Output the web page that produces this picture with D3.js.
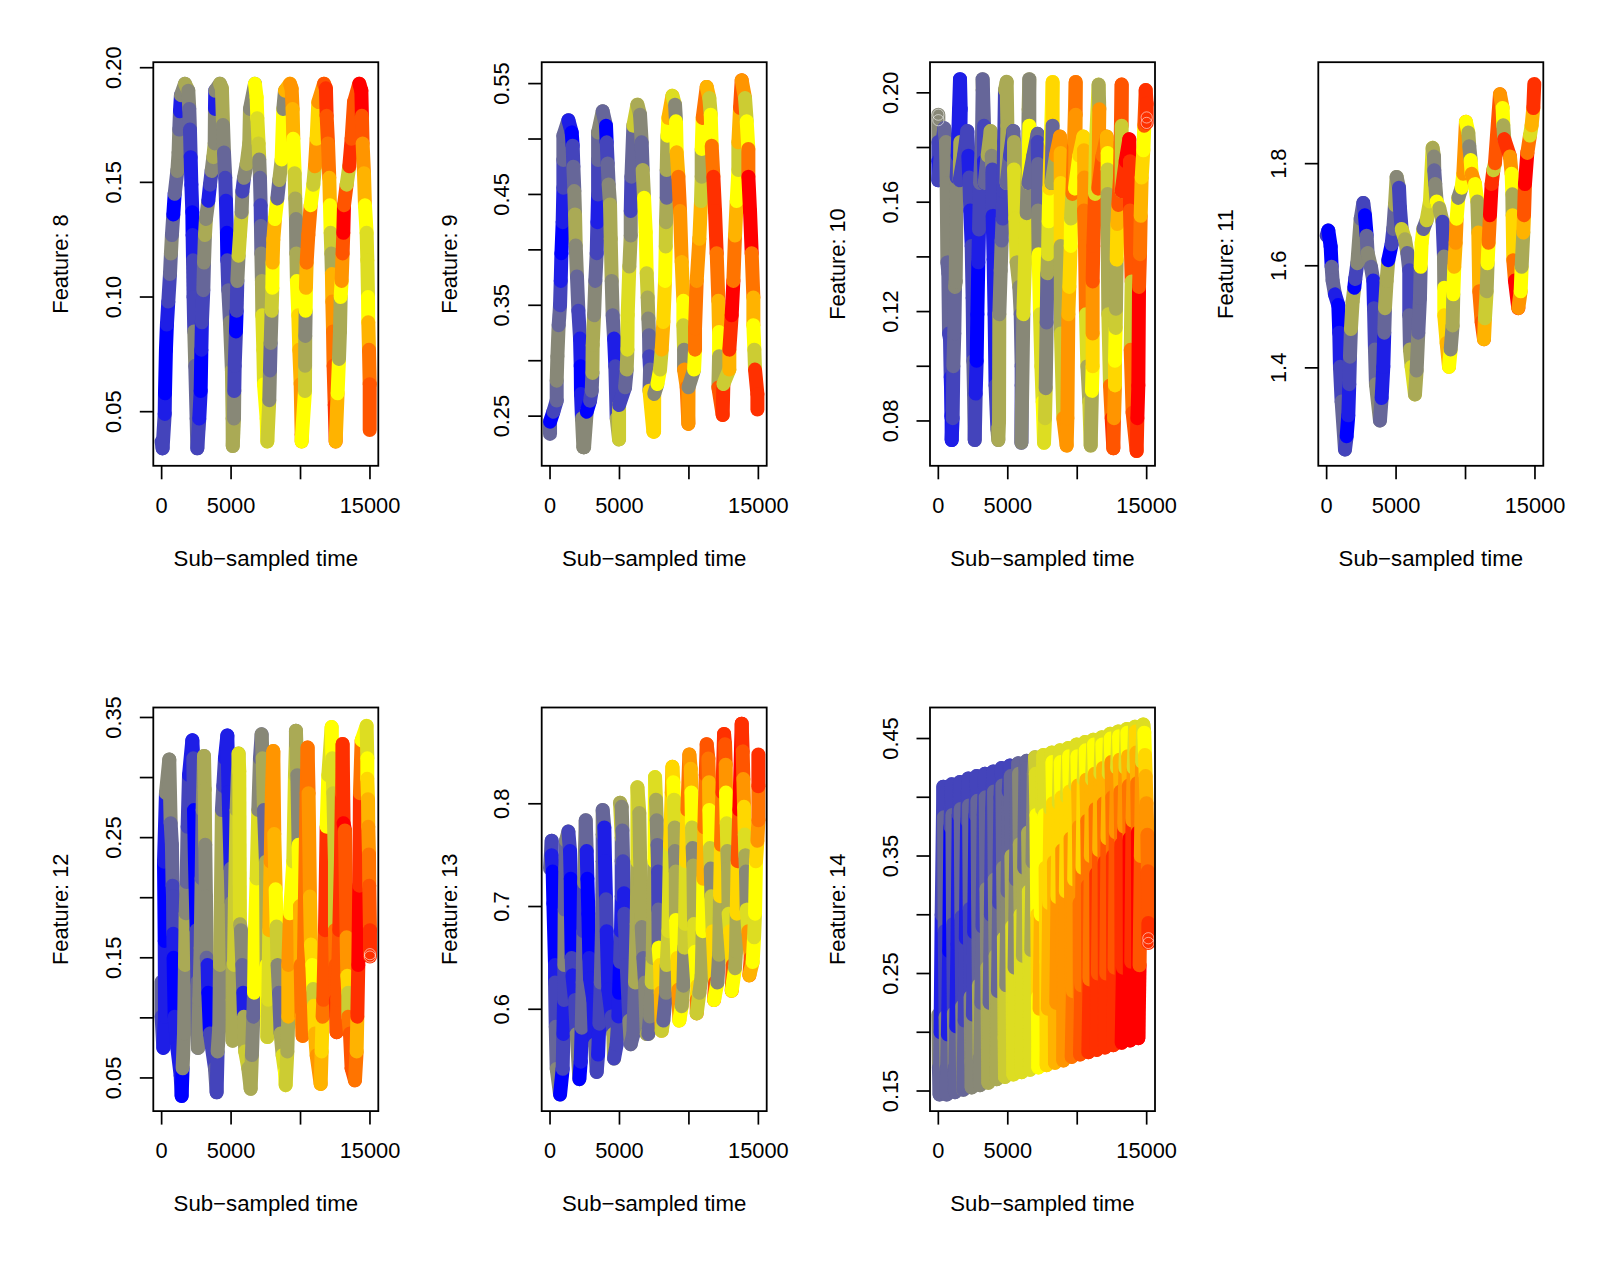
<!DOCTYPE html>
<html><head><meta charset="utf-8">
<script src="https://cdn.jsdelivr.net/npm/d3@7/dist/d3.min.js"></script>
<style>html,body{margin:0;background:#fff}svg{display:block}text{font-family:"Liberation Sans",Arial,sans-serif;fill:#000}</style>
</head><body><div id="chart"></div>
<script>
// rows: [time, value, colour band]
const bandColours=["#0000ff","#1e1ee6","#4444bb","#666699","#888877","#aaaa55","#cccc33","#dddd22","#ffff00","#ffd700","#ffb300","#ff9500","#ff7400","#ff5500","#ff3000","#ff0000"];
const timeTicks=[0,5000,10000,15000];
const timeLabels=[0,5000,15000];
const feature8=[[0,.037,4],[70,.034,2],[220,.049,2],[240,.058,1],[310,.077,0],[380,.088,0],[480,.098,1],[600,.110,2],[670,.119,3],[740,.127,4],[840,.136,3],[940,.145,0],[1130,.155,3],[1220,.163,4],[1270,.173,4],[1320,.181,3],[1390,.188,1],[1680,.193,4],
[1920,.190,5],[1990,.182,4],[2040,.173,3],[2090,.161,2],[2140,.149,1],[2210,.137,1],[2230,.127,0],[2260,.116,1],[2300,.100,2],[2350,.085,2],[2420,.070,4],[2520,.047,3],[2570,.034,3],
[2710,.047,2],[2810,.059,1],[2860,.077,0],[2900,.089,1],[3000,.103,2],[3050,.115,3],[3120,.127,4],[3190,.134,5],[3360,.142,4],[3480,.149,1],[3600,.155,2],[3720,.161,4],[3820,.167,5],[3840,.182,4],[3860,.190,1],[4200,.193,4],
[4340,.191,5],[4420,.175,5],[4490,.163,4],[4580,.152,3],[4630,.142,2],[4700,.128,1],[4730,.116,0],[4800,.103,2],[4920,.089,3],[5060,.068,4],[5110,.047,5],[5120,.035,5],
[5210,.047,5],[5230,.059,4],[5260,.070,2],[5350,.085,2],[5400,.094,0],[5450,.107,2],[5540,.118,4],[5640,.127,6],[5760,.137,6],[5810,.146,4],[5930,.152,2],[6120,.158,4],[6310,.167,5],[6360,.182,5],[6720,.193,4],
[6840,.187,8],[6890,.178,8],[6980,.167,7],[7030,.160,6],[7080,.152,4],[7130,.140,3],[7150,.131,2],[7180,.119,3],[7220,.107,4],[7250,.092,5],[7320,.077,7],[7370,.062,7],[7560,.047,8],[7610,.037,8],
[7750,.055,6],[7800,.068,4],[7850,.080,3],[7920,.094,4],[7970,.104,6],[7990,.115,8],[8040,.125,10],[8160,.134,10],[8330,.143,8],[8470,.151,3],[8640,.160,5],[8760,.182,8],[8880,.190,4],[9240,.193,10],
[9360,.191,11],[9430,.182,11],[9480,.169,10],[9580,.154,8],[9620,.143,6],[9670,.134,5],[9700,.119,4],[9740,.107,5],[9840,.092,8],[9910,.077,9],[10010,.062,10],[10080,.040,11],[10080,.037,11],
[10320,.059,8],[10330,.070,6],[10340,.083,5],[10370,.094,4],[10390,.104,8],[10440,.115,10],[10560,.127,12],[10730,.140,12],[10920,.149,8],[11040,.157,6],[11160,.169,11],[11280,.185,9],[11690,.193,11],
[11830,.191,13],[11880,.179,14],[11980,.167,13],[12070,.152,12],[12120,.140,10],[12170,.128,8],[12220,.119,6],[12260,.110,5],[12290,.098,10],[12340,.085,11],[12380,.070,12],[12460,.053,13],[12530,.037,14],
[12670,.058,10],[12770,.073,8],[12840,.085,5],[12890,.100,5],[12960,.107,8],[13030,.119,11],[13080,.128,13],[13130,.140,15],[13320,.149,13],[13510,.157,6],[13680,.169,14],[13850,.185,13],[14230,.193,13],
[14380,.190,15],[14420,.179,15],[14470,.167,13],[14570,.154,11],[14640,.140,10],[14760,.128,8],[14810,.116,7],[14860,.100,7],[14880,.089,8],[14930,.077,10],[14980,.062,12],[14980,.042,13]];
const feature9=[[0,.234,4],[0,.245,3],[240,.254,0],[480,.264,2],[480,.282,3],[530,.304,4],[620,.332,4],[720,.350,3],[770,.372,2],[820,.397,1],[910,.425,0],[960,.456,1],[960,.481,2],[960,.503,3],[1320,.517,3],
[1560,.506,1],[1630,.494,0],[1680,.475,2],[1750,.453,3],[1800,.432,4],[1850,.404,5],[1940,.376,4],[2040,.345,3],[2160,.320,2],[2210,.295,1],[2230,.270,0],[2300,.248,1],[2400,.222,4],
[2450,.222,4],[2640,.254,4],[2880,.264,0],[3000,.273,2],[3050,.289,3],[3070,.314,5],[3170,.341,5],[3260,.372,4],[3360,.397,3],[3410,.425,2],[3460,.450,1],[3460,.481,2],[3460,.506,3],[3790,.525,4],
[4030,.512,3],[4080,.497,0],[4150,.478,2],[4220,.459,3],[4320,.441,4],[4370,.410,5],[4440,.372,5],[4510,.341,4],[4610,.320,3],[4700,.295,1],[4800,.248,2],[4970,.229,5],
[4970,.260,6],[5400,.276,2],[5520,.292,3],[5570,.310,5],[5590,.341,7],[5710,.385,7],[5810,.413,5],[5810,.435,4],[5860,.466,2],[6000,.512,3],[6290,.531,6],
[6480,.522,5],[6600,.497,4],[6670,.472,3],[6770,.447,5],[6890,.416,8],[6960,.379,8],[7030,.357,6],[7080,.338,5],[7130,.323,4],[7150,.304,3],[7200,.292,2],[7160,.273,3],[7440,.236,9],
[7490,.236,9],[7500,.270,9],[7730,.279,4],[7920,.292,8],[8040,.310,6],[8160,.335,10],[8280,.372,9],[8330,.403,8],[8350,.425,6],[8400,.447,5],[8400,.472,3],[8450,.503,5],[8520,.519,8],[8810,.539,10],
[9000,.531,7],[9070,.516,4],[9120,.488,8],[9240,.466,10],[9360,.435,12],[9480,.389,11],[9600,.354,10],[9600,.332,8],[9650,.310,6],[9650,.292,4],[9840,.276,11],[9960,.243,12],
[9970,.276,11],[10370,.292,4],[10440,.310,8],[10440,.329,12],[10560,.372,12],[10750,.410,11],[10870,.444,10],[10920,.466,6],[10920,.491,5],[10990,.519,8],[11280,.547,12],
[11470,.537,10],[11570,.522,6],[11640,.494,8],[11760,.466,12],[11880,.435,14],[12000,.397,14],[12120,.354,12],[12170,.326,10],[12170,.304,8],[12120,.276,5],[12430,.251,13],
[12480,.279,14],[12910,.292,6],[12910,.310,10],[13080,.341,14],[13200,.372,15],[13320,.413,12],[13440,.444,10],[13560,.472,8],[13560,.497,6],[13680,.528,10],[13800,.553,13],
[14040,.537,11],[14160,.516,6],[14280,.491,8],[14280,.466,12],[14400,.435,15],[14520,.397,15],[14640,.357,12],[14640,.332,10],[14710,.310,8],[14760,.292,6],[14930,.270,14],[14930,.256,14]];
const feature10=[[0,.192,4],[0,.182,4],[0,.175,2],[0,.168,1],[170,.177,2],[430,.187,2],
[550,.182,3],[600,.167,4],[650,.138,4],[720,.134,3],[770,.112,3],[840,.110,2],[890,.096,2],[910,.093,1],[940,.082,1],[960,.081,0],[960,.073,0],
[1030,.081,1],[1080,.100,2],[1150,.112,3],[1200,.129,3],[1250,.131,4],[1320,.169,4],[1390,.177,2],[1490,.194,1],[1560,.205,1],
[1610,.194,1],[1580,.182,1],[1540,.168,5],[1850,.177,2],[2090,.186,2],
[2160,.177,2],[2230,.169,1],[2300,.157,2],[2400,.144,1],[2470,.125,2],[2520,.102,2],[2570,.090,3],[2620,.073,3],
[2690,.090,2],[2760,.102,1],[2810,.119,0],[2880,.138,0],[2930,.150,1],[3000,.167,2],[3140,.182,3],[3190,.201,3],[3190,.205,4],
[3290,.188,3],[3290,.175,2],[3340,.167,1],[3550,.177,3],[3770,.186,5],
[3840,.177,5],[3890,.172,4],[3910,.155,2],[3980,.139,1],[4050,.119,1],[4120,.093,1],[4250,.077,2],[4320,.073,4],
[4370,.080,5],[4390,.119,5],[4490,.135,4],[4560,.146,4],[4630,.154,3],[4680,.164,2],[4740,.182,2],[4800,.201,2],[4920,.204,5],
[4970,.188,5],[4920,.167,5],[5160,.177,3],[5400,.186,2],
[5450,.182,3],[5450,.172,5],[5540,.154,7],[5640,.138,7],[5830,.129,5],[5930,.119,4],[6000,.100,3],[6000,.093,2],[5980,.072,2],
[6120,.119,4],[6240,.138,7],[6360,.156,7],[6460,.172,4],[6500,.194,4],[6550,.205,5],
[6550,.188,4],[6480,.167,8],[6840,.177,3],[7150,.185,3],
[7150,.182,3],[7180,.174,2],[7180,.157,3],[7220,.141,4],[7320,.119,8],[7420,.100,7],[7510,.087,7],[7610,.072,8],
[7680,.081,7],[7730,.092,6],[7800,.116,4],[7850,.134,3],[7900,.141,5],[7940,.153,7],[7990,.165,8],[8090,.182,9],[8230,.204,8],
[8230,.188,9],[8160,.167,3],[8470,.177,5],[8760,.184,11],
[8810,.178,11],[8810,.167,10],[8810,.144,9],[8830,.112,5],[9000,.081,6],[9240,.071,11],
[9290,.081,11],[9360,.119,11],[9430,.129,10],[9530,.144,9],[9550,.154,8],[9650,.163,6],[9770,.182,12],[9890,.204,11],
[9890,.192,12],[9840,.165,11],[10150,.177,8],[10440,.184,9],
[10490,.179,9],[10510,.169,10],[10490,.157,11],[10560,.144,12],[10630,.119,12],[10730,.100,7],[10870,.087,5],[10970,.071,6],
[11060,.091,5],[11110,.100,8],[11110,.112,9],[11110,.131,11],[11160,.144,13],[11280,.163,13],[11350,.182,7],[11540,.203,7],
[11590,.194,5],[11520,.165,11],[11830,.177,13],[12120,.184,12],
[12190,.178,10],[12190,.172,8],[12190,.163,6],[12190,.149,5],[12240,.119,5],[12360,.093,6],[12480,.081,12],[12600,.070,14],
[12650,.081,13],[12720,.093,11],[12720,.102,9],[12770,.114,8],[12790,.121,6],[12840,.139,5],[12890,.152,9],[12960,.159,10],[13080,.169,13],[13200,.203,13],
[13200,.188,13],[13200,.164,6],[13490,.175,14],[13750,.183,15],
[13800,.175,15],[13800,.157,14],[13920,.131,13],[13850,.106,6],[13990,.083,12],[14280,.069,13],
[14330,.081,14],[14400,.093,15],[14450,.129,15],[14520,.141,13],[14570,.155,12],[14640,.169,10],[14760,.179,9],[14830,.188,8],[14930,.201,13],[15000,.196,14],[15000,.189,14]];
const feature11=[[0,1.659,3],[120,1.669,2],[290,1.638,0],[360,1.598,0],[430,1.571,3],[600,1.544,3],[840,1.523,1],[910,1.469,0],[960,1.402,1],[1080,1.334,2],[1320,1.240,3],
[1440,1.266,2],[1560,1.307,0],[1630,1.368,1],[1680,1.422,2],[1750,1.476,3],[1870,1.530,5],[1990,1.557,5],[2060,1.574,0],[2210,1.605,2],[2450,1.692,4],[2640,1.723,3],
[2760,1.699,2],[2880,1.659,0],[2950,1.625,3],[3190,1.598,4],[3360,1.571,3],[3410,1.517,1],[3480,1.436,2],[3550,1.368,3],[3840,1.297,4],
[3960,1.341,3],[4080,1.402,1],[4150,1.469,1],[4200,1.517,3],[4320,1.571,5],[4440,1.611,5],[4680,1.642,0],[4800,1.672,2],[4920,1.719,3],[5040,1.774,5],
[5210,1.753,4],[5280,1.713,2],[5400,1.672,2],[5640,1.652,6],[5810,1.625,5],[5950,1.591,3],[5950,1.503,2],[6000,1.436,3],[6120,1.402,5],[6360,1.348,7],
[6480,1.395,5],[6600,1.469,4],[6720,1.537,3],[6770,1.598,3],[6840,1.645,8],[6960,1.672,8],[7200,1.689,3],[7440,1.726,6],[7630,1.831,7],
[7730,1.814,5],[7750,1.787,4],[7820,1.760,3],[7920,1.726,4],[8110,1.713,8],[8350,1.686,5],[8450,1.618,2],[8470,1.557,4],[8470,1.503,8],[8640,1.449,9],[8810,1.402,10],
[8930,1.436,8],[9070,1.483,4],[9120,1.544,5],[9190,1.598,8],[9290,1.645,10],[9360,1.692,11],[9480,1.733,8],[9720,1.753,4],[9840,1.780,8],[10030,1.882,11],
[10200,1.861,8],[10270,1.834,5],[10370,1.807,4],[10440,1.780,8],[10680,1.760,11],[10850,1.726,8],[10920,1.665,5],[10990,1.550,10],[11160,1.490,12],[11330,1.456,13],
[11400,1.497,10],[11520,1.550,6],[11590,1.605,5],[11660,1.645,8],[11760,1.699,12],[11880,1.760,15],[12000,1.787,14],[12120,1.801,6],[12480,1.936,13],
[12670,1.909,11],[12720,1.875,8],[12790,1.848,5],[13200,1.814,14],[13320,1.780,11],[13370,1.740,8],[13390,1.699,5],[13440,1.611,9],[13560,1.571,12],[13800,1.517,15],
[13970,1.550,11],[14040,1.598,8],[14160,1.665,5],[14210,1.699,10],[14280,1.760,13],[14450,1.821,15],[14640,1.855,12],[14760,1.875,7],[14880,1.909,10],[14950,1.956,14]];
const feature12=[[0,.130,5],[0,.101,3],[120,.075,2],[240,.101,1],[220,.164,1],[170,.230,0],[310,.287,1],[550,.315,4],
[650,.262,4],[740,.244,3],[790,.210,3],[820,.201,2],[840,.170,2],[860,.150,1],[890,.130,0],[940,.101,0],[1130,.075,1],[1370,.052,1],[1440,.035,1],
[1510,.058,0],[1610,.087,4],[1680,.144,4],[1730,.187,5],[1800,.213,4],[1870,.259,3],[1970,.302,2],[2210,.331,1],
[2280,.316,1],[2330,.273,2],[2400,.230,0],[2520,.173,0],[2570,.130,2],[2620,.075,3],
[2710,.115,4],[2810,.158,4],[2880,.216,4],[2950,.273,3],[3050,.318,4],
[3100,.290,5],[3140,.244,5],[3190,.201,4],[3240,.150,4],[3310,.144,3],[3360,.121,1],[3480,.087,0],[3840,.058,2],[3960,.038,3],
[4030,.072,2],[4150,.092,4],[4200,.144,4],[4270,.201,5],[4340,.273,5],[4440,.293,3],[4560,.316,2],[4730,.335,1],
[4820,.288,1],[4970,.224,1],[5040,.196,3],[5110,.144,4],[5110,.115,5],[5110,.081,5],
[5210,.144,5],[5280,.201,6],[5400,.273,6],[5540,.320,5],
[5590,.305,7],[5640,.178,7],[5710,.173,5],[5810,.144,4],[5880,.121,3],[5930,.101,1],[6020,.072,5],[6240,.058,6],[6410,.041,5],
[6500,.069,5],[6600,.101,4],[6650,.121,3],[6720,.173,8],[6840,.216,8],[6960,.273,7],[7080,.316,4],[7200,.336,3],
[7270,.316,4],[7370,.273,5],[7510,.230,3],[7560,.144,5],[7610,.084,8],
[7680,.115,6],[7750,.173,7],[7850,.230,10],[7940,.287,11],[8040,.322,11],
[8110,.253,11],[8210,.207,10],[8280,.176,8],[8350,.144,6],[8450,.121,4],[8570,.087,3],[8710,.069,5],[8880,.055,7],[8930,.044,8],
[9050,.072,6],[9120,.101,5],[9120,.144,10],[9240,.187,11],[9480,.230,8],[9600,.302,7],[9670,.328,6],[9670,.339,4],
[9770,.302,5],[9860,.244,4],[9960,.193,8],[10010,.144,10],[10080,.101,12],[10150,.085,11],
[10200,.115,12],[10320,.201,12],[10440,.287,12],[10510,.325,12],
[10580,.287,12],[10680,.201,11],[10750,.161,10],[10850,.144,9],[10920,.124,8],[10970,.110,6],[11040,.087,9],[11160,.069,10],[11450,.045,11],
[11520,.072,10],[11590,.101,9],[11640,.115,12],[11760,.173,13],[11880,.259,14],[12000,.302,8],[12240,.342,7],
[12290,.316,8],[12360,.287,7],[12480,.230,6],[12480,.173,6],[12530,.144,12],[12550,.115,13],[12600,.088,14],
[12650,.115,13],[12790,.173,13],[12910,.230,14],[12980,.287,14],[13030,.328,13],
[13100,.262,14],[13200,.256,15],[13320,.167,13],[13370,.135,11],[13440,.121,9],[13440,.101,6],[13560,.087,12],[13680,.058,13],[13920,.048,13],
[14040,.072,12],[14090,.101,10],[14160,.144,14],[14230,.210,15],[14280,.287,14],[14400,.331,12],[14760,.343,8],
[14810,.316,7],[14810,.299,8],[14860,.282,9],[14880,.259,10],[14930,.236,11],[14950,.210,12],[15000,.173,13],[15000,.151,14]];
const feature13=[[0,.737,4],[120,.764,3],[120,.750,2],[190,.734,1],[240,.703,0],[360,.643,0],[360,.626,1],[410,.583,2],[480,.542,3],[720,.517,4],
[910,.542,0],[960,.576,2],[1010,.609,1],[1030,.643,2],[1060,.697,4],[1100,.737,3],[1150,.764,3],[1320,.773,4],
[1440,.754,2],[1490,.727,1],[1510,.690,0],[1560,.650,0],[1610,.633,2],[1800,.609,1],[1920,.576,2],[2110,.532,4],
[2210,.549,0],[2280,.582,1],[2350,.626,3],[2400,.676,3],[2450,.723,2],[2570,.784,4],
[2640,.754,3],[2690,.727,1],[2760,.693,0],[2830,.650,0],[2880,.630,1],[3120,.609,1],[3240,.566,1],[3360,.539,3],
[3460,.556,2],[3550,.586,1],[3650,.626,2],[3740,.676,3],[3790,.744,3],[3790,.770,3],[3790,.794,4],
[3910,.777,3],[3960,.744,1],[4030,.707,1],[4080,.676,2],[4200,.619,1],[4440,.593,1],[4560,.576,2],[4610,.552,5],
[4800,.566,2],[4920,.593,2],[4970,.616,1],[5040,.646,0],[5110,.676,2],[5160,.710,1],[5160,.744,2],[5160,.767,3],[5040,.801,6],
[5160,.797,5],[5210,.774,4],[5260,.744,3],[5330,.713,2],[5350,.693,1],[5520,.643,2],[5710,.589,2],[5810,.566,4],
[6000,.576,3],[6120,.626,3],[6240,.683,5],[6290,.744,5],[6290,.816,7],
[6430,.791,6],[6480,.750,5],[6600,.680,5],[6720,.650,4],[6840,.626,3],[6960,.576,4],[7080,.576,5],
[7200,.593,3],[7320,.626,4],[7390,.650,6],[7440,.693,5],[7510,.744,5],[7560,.826,8],
[7630,.804,7],[7680,.784,5],[7730,.760,4],[7780,.734,3],[7800,.697,2],[7820,.660,3],[7920,.643,8],[7970,.616,9],[8040,.579,10],
[8160,.589,6],[8350,.616,3],[8400,.643,4],[8520,.676,6],[8640,.760,7],[8760,.811,9],[8810,.836,10],
[8880,.821,9],[8930,.804,8],[8980,.777,7],[9000,.754,5],[9050,.734,4],[9070,.687,5],[9170,.650,8],[9240,.619,9],[9310,.589,11],
[9480,.603,8],[9600,.623,5],[9670,.660,4],[9720,.683,6],[9790,.744,7],[9890,.794,9],[10030,.848,12],
[10130,.834,11],[10180,.811,10],[10220,.777,8],[10270,.757,6],[10320,.740,4],[10370,.683,5],[10440,.656,7],[10610,.623,8],[10560,.609,9],[10560,.596,12],
[10750,.616,6],[10920,.633,5],[10990,.676,5],[11040,.727,8],[11110,.777,10],[11210,.828,12],[11280,.858,13],
[11400,.844,13],[11450,.821,12],[11470,.794,10],[11520,.757,8],[11570,.737,6],[11620,.710,4],[11710,.676,6],[11880,.626,9],[11810,.609,13],
[12050,.626,8],[12170,.653,4],[12240,.710,5],[12310,.760,9],[12410,.811,12],[12530,.868,14],
[12600,.858,14],[12650,.838,13],[12670,.811,11],[12720,.781,8],[12770,.754,7],[12820,.737,5],[12860,.693,5],[12960,.676,7],[13150,.643,9],[13100,.623,13],[13080,.618,14],
[13320,.640,8],[13390,.656,5],[13440,.693,5],[13510,.744,9],[13630,.794,13],[13800,.878,15],
[13870,.851,14],[13920,.824,13],[13970,.797,11],[14020,.770,9],[14060,.750,7],[14110,.734,5],[14160,.697,4],[14280,.676,7],[14450,.650,11],[14350,.633,13],
[14590,.646,10],[14690,.670,8],[14760,.693,7],[14830,.744,8],[14930,.764,9],[15000,.784,11],[15000,.817,12],[15000,.848,14]];
const feature14=[[0,.215,4],[40,.170,4],[90,.147,3],[160,.200,3],[240,.300,1],[360,.409,2],
[410,.383,2],[460,.286,3],[520,.213,2],[570,.169,4],[600,.147,3],[690,.198,3],[780,.269,1],[870,.375,0],[960,.411,2],
[1010,.385,2],[1060,.292,3],[1120,.216,2],[1170,.170,4],[1200,.149,3],[1290,.205,3],[1380,.275,1],[1470,.385,1],[1560,.413,2],
[1610,.390,2],[1660,.298,3],[1720,.222,2],[1770,.172,4],[1800,.151,4],[1890,.210,3],[1980,.280,2],[2070,.380,1],[2160,.416,2],
[2210,.393,2],[2260,.305,3],[2320,.230,2],[2370,.175,4],[2400,.153,4],[2490,.215,4],[2580,.285,2],[2670,.385,1],[2760,.418,2],
[2810,.397,2],[2860,.315,3],[2920,.240,3],[2970,.178,5],[3000,.155,4],[3090,.225,4],[3180,.290,3],[3270,.385,2],[3360,.420,2],
[3410,.400,2],[3460,.322,3],[3520,.255,4],[3570,.185,5],[3600,.157,5],[3690,.225,5],[3780,.300,3],[3870,.390,2],[3960,.422,2],
[4010,.405,2],[4060,.330,3],[4120,.265,4],[4170,.190,5],[4200,.160,5],[4290,.235,5],[4380,.310,3],[4470,.400,2],[4560,.425,2],
[4610,.410,2],[4660,.340,3],[4720,.280,4],[4770,.195,6],[4800,.162,6],[4890,.240,6],[4980,.320,4],[5070,.405,3],[5160,.427,2],
[5210,.418,2],[5260,.350,3],[5320,.290,5],[5370,.200,7],[5400,.164,7],[5490,.255,7],[5580,.330,4],[5670,.410,3],[5760,.429,3],
[5810,.420,3],[5860,.360,4],[5920,.300,5],[5970,.205,7],[6000,.166,7],[6090,.265,7],[6180,.340,5],[6270,.425,3],[6360,.431,3],
[6410,.425,3],[6460,.370,3],[6520,.320,5],[6570,.215,7],[6600,.168,7],[6690,.270,7],[6780,.345,5],[6870,.420,4],[6960,.434,4],
[7010,.420,6],[7060,.385,7],[7120,.300,8],[7170,.230,9],[7200,.170,8],[7290,.220,8],[7380,.300,10],[7470,.390,8],[7560,.436,7],
[7610,.425,7],[7660,.385,7],[7720,.340,8],[7770,.260,9],[7800,.172,9],[7890,.220,9],[7980,.310,10],[8070,.390,9],[8160,.438,7],
[8210,.430,7],[8260,.395,8],[8320,.345,9],[8370,.270,10],[8400,.174,10],[8490,.225,10],[8580,.315,11],[8670,.395,9],[8760,.440,7],
[8810,.430,7],[8860,.400,8],[8920,.355,9],[8970,.280,11],[9000,.176,11],[9090,.230,11],[9180,.320,11],[9270,.400,9],[9360,.442,7],
[9410,.435,7],[9460,.405,8],[9520,.365,9],[9570,.300,11],[9600,.179,11],[9690,.235,12],[9780,.330,11],[9870,.410,9],[9960,.445,7],
[10010,.435,7],[10060,.410,8],[10120,.375,10],[10170,.310,11],[10200,.181,12],[10290,.240,13],[10380,.340,12],[10470,.415,9],[10560,.447,7],
[10610,.440,7],[10660,.415,8],[10720,.380,10],[10770,.325,12],[10800,.183,13],[10890,.245,14],[10980,.350,12],[11070,.415,10],[11160,.449,7],
[11210,.445,7],[11260,.420,8],[11320,.390,10],[11370,.335,12],[11400,.185,14],[11490,.250,14],[11580,.355,13],[11670,.420,10],[11760,.451,7],
[11810,.445,7],[11860,.425,8],[11920,.395,10],[11970,.345,12],[12000,.187,14],[12090,.250,14],[12180,.365,13],[12270,.420,10],[12360,.454,7],
[12410,.450,7],[12460,.430,8],[12520,.400,11],[12570,.350,12],[12600,.189,14],[12690,.255,14],[12780,.370,13],[12870,.425,11],[12960,.456,7],
[13010,.452,7],[13060,.432,8],[13120,.405,10],[13170,.360,12],[13200,.191,14],[13290,.255,15],[13380,.375,14],[13470,.425,11],[13560,.458,7],
[13610,.455,7],[13660,.435,8],[13720,.410,10],[13770,.365,12],[13800,.193,15],[13890,.260,15],[13980,.380,14],[14070,.425,11],[14160,.460,7],
[14210,.456,7],[14260,.438,9],[14320,.412,10],[14370,.370,12],[14400,.195,15],[14490,.257,15],[14580,.350,13],[14670,.430,11],[14760,.462,7],
[14830,.455,7],[14880,.436,8],[14930,.418,9],[14990,.395,10],[15050,.368,11],[15090,.337,12],[15120,.293,13],[15120,.276,14]];

const featureNames=[8,9,10,11,12,13,14];
const featureSeries=[feature8,feature9,feature10,feature11,feature12,feature13,feature14];
const valueDomains=[[.0264,.2024],[.2052,.5693],[.0636,.2112],[1.2082,1.9987],[.0224,.3583],[.5009,.8937],[.1329,.4764]];
const valueTicks=[[.05,.10,.15,.20],[.25,.30,.35,.40,.45,.50,.55],[.08,.10,.12,.14,.16,.18,.20],[1.4,1.6,1.8],[.05,.10,.15,.20,.25,.30,.35],[.6,.7,.8],[.15,.20,.25,.30,.35,.40,.45]];
const valueLabels=[[.05,.10,.15,.20],[.25,.35,.45,.55],[.08,.12,.16,.20],[1.4,1.6,1.8],[.05,.15,.25,.35],[.6,.7,.8],[.15,.25,.35,.45]];
const labelDigits=[2,2,2,1,2,1,2];
// open end-of-series circles seen in the reference: [feature index, time, value, band]
const openRings=[[2,0,.192,4],[2,0,.190,4],[2,15000,.191,14],[2,15000,.189,14],[4,15000,.153,14],[4,15000,.151,14],[6,15120,.280,14],[6,15120,.276,14]];

const W=1624,H=1285,pw=225,ph=403.6,fs=21.8,sw=14;
const lefts=[153.3,541.7,930,1318.3],tops=[62.2,707.5];
const svg=d3.select("#chart").append("svg").attr("width",W).attr("height",H);
featureSeries.forEach((rows,i)=>{
  const col=i<4?i:i-4,row=i<4?0:1;
  const g=svg.append("g").attr("transform",`translate(${lefts[col]},${tops[row]})`);
  const x=d3.scaleLinear().domain([-600,15600]).range([0,pw]);
  const y=d3.scaleLinear().domain(valueDomains[i]).range([ph,0]);
  const segs=d3.pairs(rows);
  g.selectAll("line.m").data(segs).join("line").attr("class","m")
    .attr("x1",d=>x(d[0][0])).attr("y1",d=>y(d[0][1]))
    .attr("x2",d=>x(d[1][0])).attr("y2",d=>y(d[1][1]))
    .attr("stroke",d=>bandColours[d[1][2]])
    .attr("stroke-width",sw).attr("stroke-linecap","round");
  g.selectAll("circle.r").data(openRings.filter(r=>r[0]===i)).join("circle").attr("class","r")
    .attr("cx",d=>x(d[1])).attr("cy",d=>y(d[2])).attr("r",5.6)
    .attr("fill","none").attr("stroke","#fff").attr("stroke-opacity",.55).attr("stroke-width",1);
  g.append("rect").attr("width",pw).attr("height",ph).attr("fill","none").attr("stroke","#000").attr("stroke-width",1.8);
  const xa=g.append("g").attr("transform",`translate(0,${ph})`).call(
    d3.axisBottom(x).tickValues(timeTicks).tickSize(13.5).offset(0).tickFormat(d=>timeLabels.includes(d)?String(d):""));
  xa.select(".domain").remove();
  xa.selectAll("line").attr("stroke","#000").attr("stroke-width",1.7);
  xa.selectAll("text").attr("y",0).attr("dy",0).attr("transform","translate(0,47)").attr("font-size",fs).attr("font-family","Liberation Sans").attr("text-anchor","middle");
  const ya=g.append("g").call(
    d3.axisLeft(y).tickValues(valueTicks[i]).tickSize(13.5).offset(0).tickFormat(d=>valueLabels[i].includes(d)?d.toFixed(labelDigits[i]):""));
  ya.select(".domain").remove();
  ya.selectAll("line").attr("stroke","#000").attr("stroke-width",1.7);
  ya.selectAll("text").attr("x",0).attr("y",0).attr("dy",0).attr("transform","translate(-32.4,0) rotate(-90)").attr("font-size",fs).attr("font-family","Liberation Sans").attr("text-anchor","middle");
  g.append("text").attr("x",pw/2).attr("y",ph+99.8).attr("font-size",22.2).attr("text-anchor","middle").text("Sub\u2212sampled time");
  g.append("text").attr("transform",`translate(-85,${ph/2}) rotate(-90)`).attr("font-size",fs).attr("text-anchor","middle").text("Feature: "+featureNames[i]);
});
</script></body></html>
